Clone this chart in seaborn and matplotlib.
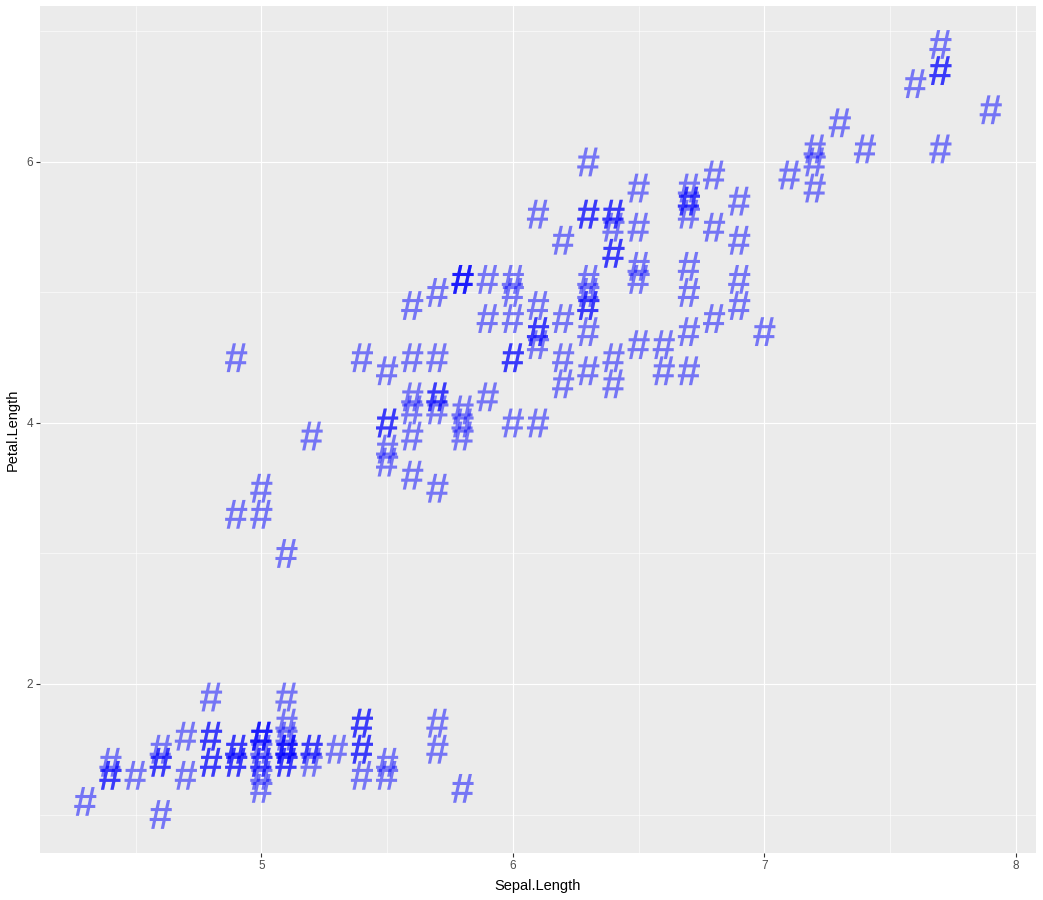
import matplotlib
matplotlib.use("Agg")
import matplotlib.pyplot as plt
import seaborn as sns
import pandas as pd
from matplotlib.ticker import MultipleLocator
from matplotlib.textpath import TextPath
from matplotlib.font_manager import FontProperties
from matplotlib.path import Path

# iris: Sepal.Length and Petal.Length
sepal_length = [
    5.1, 4.9, 4.7, 4.6, 5.0, 5.4, 4.6, 5.0, 4.4, 4.9,
    5.4, 4.8, 4.8, 4.3, 5.8, 5.7, 5.4, 5.1, 5.7, 5.1,
    5.4, 5.1, 4.6, 5.1, 4.8, 5.0, 5.0, 5.2, 5.2, 4.7,
    4.8, 5.4, 5.2, 5.5, 4.9, 5.0, 5.5, 4.9, 4.4, 5.1,
    5.0, 4.5, 4.4, 5.0, 5.1, 4.8, 5.1, 4.6, 5.3, 5.0,
    7.0, 6.4, 6.9, 5.5, 6.5, 5.7, 6.3, 4.9, 6.6, 5.2,
    5.0, 5.9, 6.0, 6.1, 5.6, 6.7, 5.6, 5.8, 6.2, 5.6,
    5.9, 6.1, 6.3, 6.1, 6.4, 6.6, 6.8, 6.7, 6.0, 5.7,
    5.5, 5.5, 5.8, 6.0, 5.4, 6.0, 6.7, 6.3, 5.6, 5.5,
    5.5, 6.1, 5.8, 5.0, 5.6, 5.7, 5.7, 6.2, 5.1, 5.7,
    6.3, 5.8, 7.1, 6.3, 6.5, 7.6, 4.9, 7.3, 6.7, 7.2,
    6.5, 6.4, 6.8, 5.7, 5.8, 6.4, 6.5, 7.7, 7.7, 6.0,
    6.9, 5.6, 7.7, 6.3, 6.7, 7.2, 6.2, 6.1, 6.4, 7.2,
    7.4, 7.9, 6.4, 6.3, 6.1, 7.7, 6.3, 6.4, 6.0, 6.9,
    6.7, 6.9, 5.8, 6.8, 6.7, 6.7, 6.3, 6.5, 6.2, 5.9,
]
petal_length = [
    1.4, 1.4, 1.3, 1.5, 1.4, 1.7, 1.4, 1.5, 1.4, 1.5,
    1.5, 1.6, 1.4, 1.1, 1.2, 1.5, 1.3, 1.4, 1.7, 1.5,
    1.7, 1.5, 1.0, 1.7, 1.9, 1.6, 1.6, 1.5, 1.4, 1.6,
    1.6, 1.5, 1.5, 1.4, 1.5, 1.2, 1.3, 1.4, 1.3, 1.5,
    1.3, 1.3, 1.3, 1.6, 1.9, 1.4, 1.6, 1.4, 1.5, 1.4,
    4.7, 4.5, 4.9, 4.0, 4.6, 4.5, 4.7, 3.3, 4.6, 3.9,
    3.5, 4.2, 4.0, 4.7, 3.6, 4.4, 4.5, 4.1, 4.5, 3.9,
    4.8, 4.0, 4.9, 4.7, 4.3, 4.4, 4.8, 5.0, 4.5, 3.5,
    3.8, 3.7, 3.9, 5.1, 4.5, 4.5, 4.7, 4.4, 4.1, 4.0,
    4.4, 4.6, 4.0, 3.3, 4.2, 4.2, 4.2, 4.3, 3.0, 4.1,
    6.0, 5.1, 5.9, 5.6, 5.8, 6.6, 4.5, 6.3, 5.8, 6.1,
    5.1, 5.3, 5.5, 5.0, 5.1, 5.3, 5.5, 6.7, 6.9, 5.0,
    5.7, 4.9, 6.7, 4.9, 5.7, 6.0, 4.8, 4.9, 5.6, 5.8,
    6.1, 6.4, 5.6, 5.1, 5.6, 6.1, 5.6, 5.5, 4.8, 5.4,
    5.6, 5.1, 5.1, 5.9, 5.7, 5.2, 5.0, 5.2, 5.4, 5.1,
]

df = pd.DataFrame({"Sepal.Length": sepal_length, "Petal.Length": petal_length})

sns.set_style("darkgrid", {"axes.facecolor": "#EBEBEB", "grid.color": "white"})
plt.rcParams["font.family"] = ["Liberation Sans", "DejaVu Sans"]

# '#' glyph in an Arial-like face, centred on the data point
tp = TextPath((0, 0), "#", size=10,
              prop=FontProperties(family="Liberation Sans", weight="bold"))
ext = tp.get_extents()
hash_marker = Path(tp.vertices - [(ext.x0 + ext.x1) / 2, (ext.y0 + ext.y1) / 2], tp.codes)

fig = plt.figure(figsize=(10.43, 9), dpi=100)
ax = fig.add_axes([40 / 1043, 1 - 853 / 900, 996 / 1043, 847 / 900])

sns.scatterplot(data=df, x="Sepal.Length", y="Petal.Length", ax=ax,
                marker=hash_marker, s=430, color="blue", alpha=0.5,
                linewidth=0, edgecolor="none")

xmin, xmax = min(sepal_length), max(sepal_length)
ymin, ymax = min(petal_length), max(petal_length)
xpad = (xmax - xmin) * 0.05
ypad = (ymax - ymin) * 0.05
ax.set_xlim(xmin - xpad, xmax + xpad)
ax.set_ylim(ymin - ypad, ymax + ypad)

ax.xaxis.set_major_locator(MultipleLocator(1))
ax.xaxis.set_minor_locator(MultipleLocator(0.5))
ax.yaxis.set_major_locator(MultipleLocator(2))
ax.yaxis.set_minor_locator(MultipleLocator(1))
ax.grid(which="major", color="white", linewidth=0.85)
ax.grid(which="minor", color="white", linewidth=0.4)
ax.set_axisbelow(True)
for sp in ax.spines.values():
    sp.set_visible(False)

ax.tick_params(which="major", length=3, width=0.8, color="#333333",
               labelsize=8.5, labelcolor="#4D4D4D", pad=2, bottom=True, left=True)
ax.tick_params(which="minor", length=0)
ax.set_xlabel("Sepal.Length", fontsize=10.5, color="black", labelpad=5)
ax.set_ylabel("Petal.Length", fontsize=10.5, color="black", labelpad=5)

fig.savefig("out.png", dpi=100)
